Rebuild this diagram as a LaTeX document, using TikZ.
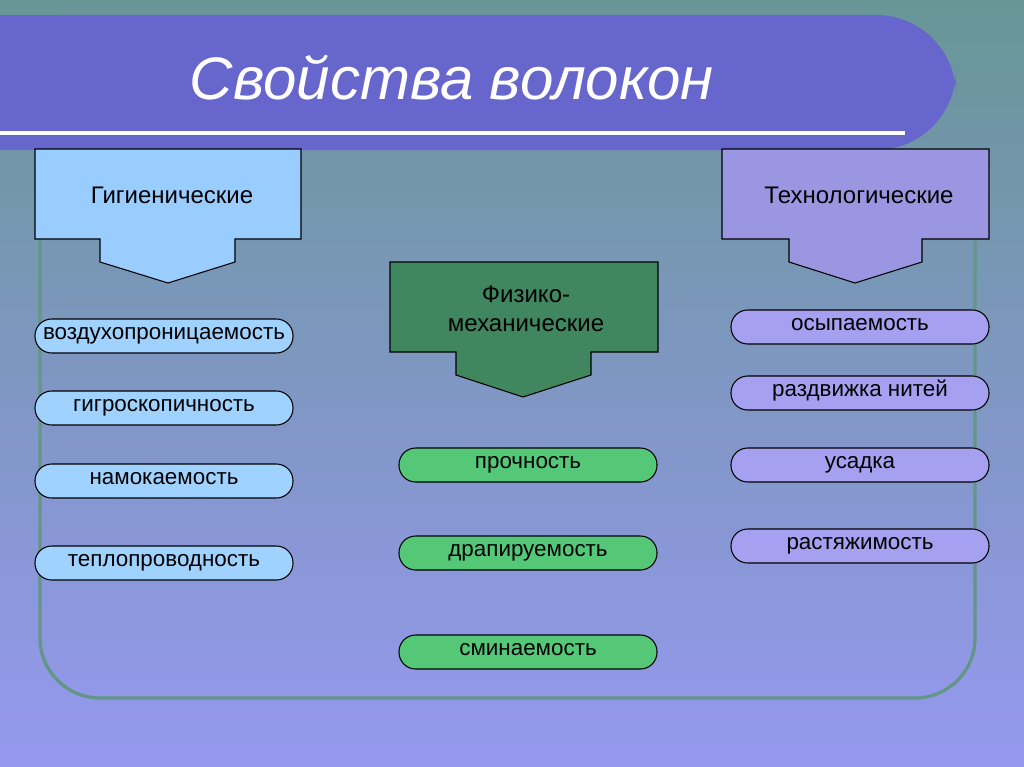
\documentclass[tikz,border=0pt]{standalone}
\usepackage{fontspec}
\setmainfont{Liberation Sans}
\begin{document}
\begin{tikzpicture}[x=0.75pt,y=-0.75pt,
 pill/.style={draw=black,line width=0.8pt,rounded corners=12.5pt,minimum width=193.5pt,minimum height=25.5pt,inner sep=0pt,text height=10pt,text depth=5.5pt,font=\fontsize{16.8}{19}\selectfont},
 lbl/.style={font=\fontsize{18}{22}\selectfont,align=center},
 arr/.style={draw=black,line width=0.8pt}]
\definecolor{bgtop}{RGB}{104,150,150}
\definecolor{bgbot}{RGB}{150,152,240}
\definecolor{banner}{RGB}{102,102,204}
\definecolor{frame}{RGB}{100,150,135}
\definecolor{lblue}{RGB}{153,204,255}
\definecolor{pblue}{RGB}{160,210,255}
\definecolor{dgreen}{RGB}{64,135,95}
\definecolor{pgreen}{RGB}{85,200,120}
\definecolor{lav}{RGB}{155,150,225}
\definecolor{plav}{RGB}{165,160,240}
\useasboundingbox (0,0) rectangle (1024,767);
\shade[top color=bgtop,bottom color=bgbot] (0,0) rectangle (1024,767);
% frame
\draw[frame,line width=2.5pt,rounded corners=45pt] (40,230) -- (40,698) -- (975,698) -- (975,150);
% banner
\fill[banner,rounded corners=60pt] (-20,15) rectangle (956,150);
\fill[banner] (-20,15) rectangle (100,150);
\draw[white,line width=2.5pt] (0,133) -- (905,133);
\node[white,font=\itshape\fontsize{45}{50}\selectfont] (title) at (452,78) {Свойства волокон};
% left arrow box
\filldraw[arr,fill=lblue] (35,149) -- (301,149) -- (301,239) -- (235,239) -- (235,262) -- (168,283) -- (100,262) -- (100,239) -- (35,239) -- cycle;
\node[lbl] (hyg) at (172,195) {Гигиенические};
% middle
\filldraw[arr,fill=dgreen] (390,262) -- (658,262) -- (658,352) -- (591,352) -- (591,375) -- (523,397) -- (456,375) -- (456,352) -- (390,352) -- cycle;
\node[lbl] (phys) at (526,309) {Физико-\\механические};
% right
\filldraw[arr,fill=lav] (722,149) -- (989,149) -- (989,239) -- (922,239) -- (922,262) -- (855,283) -- (789,262) -- (789,239) -- (722,239) -- cycle;
\node[lbl] (tech) at (859,195) {Технологические};
% pills
\node[pill,fill=pblue] (l1) at (164,336) {воздухопроницаемость};
\node[pill,fill=pblue] (l2) at (164,408) {гигроскопичность};
\node[pill,fill=pblue] (l3) at (164,481) {намокаемость};
\node[pill,fill=pblue] (l4) at (164,563) {теплопроводность};
\node[pill,fill=pgreen] (m1) at (528,465) {прочность};
\node[pill,fill=pgreen] (m2) at (528,553) {драпируемость};
\node[pill,fill=pgreen] (m3) at (528,652) {сминаемость};
\node[pill,fill=plav] (r1) at (860,327) {осыпаемость};
\node[pill,fill=plav] (r2) at (860,393) {раздвижка нитей};
\node[pill,fill=plav] (r3) at (860,465) {усадка};
\node[pill,fill=plav] (r4) at (860,546) {растяжимость};
\end{tikzpicture}
\end{document}
